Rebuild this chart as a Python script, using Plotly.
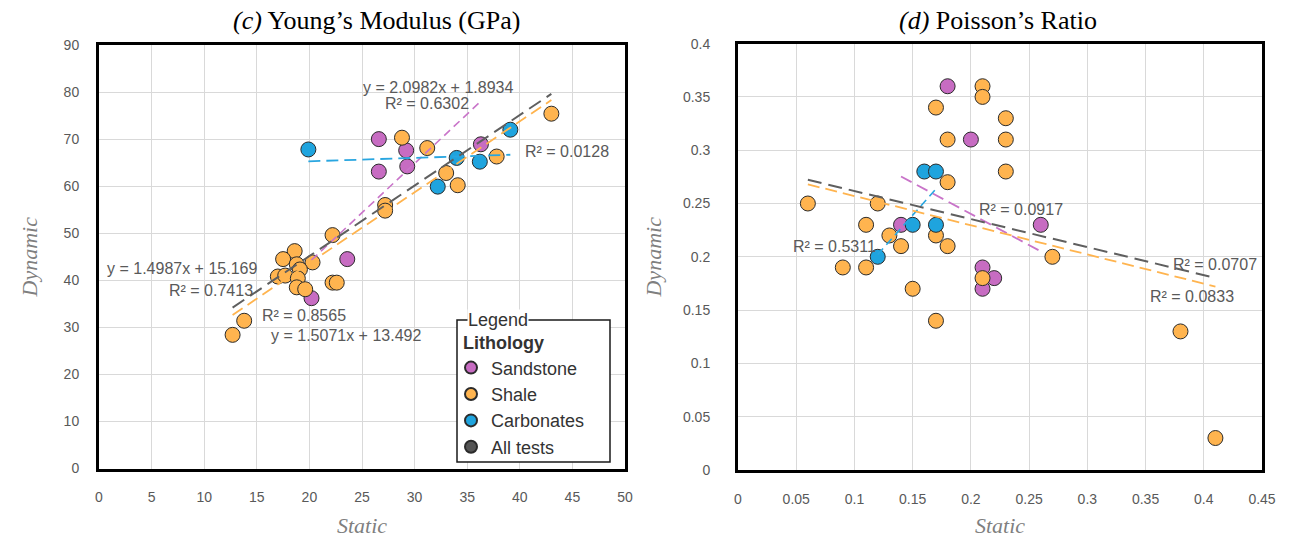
import numpy as np
import plotly.graph_objects as go

# ---------------- data: Young's modulus (GPa) ----------------
ym_sand_x = [26.6, 26.6, 29.2, 29.3, 36.3, 23.6, 20.2]
ym_sand_y = [70.0, 63.1, 67.6, 64.2, 68.9, 44.5, 36.2]
ym_shale_x = [43.0, 28.8, 31.2, 37.8, 33.0, 34.1, 27.2, 27.2, 22.2, 22.2, 22.6, 13.8, 12.7,
              18.6, 17.5, 20.3, 18.8, 19.1, 17.0, 17.7, 18.9, 18.8, 19.6]
ym_shale_y = [75.4, 70.3, 68.1, 66.3, 62.8, 60.2, 56.0, 54.8, 49.6, 39.5, 39.5, 31.4, 28.4,
              46.2, 44.5, 43.8, 43.4, 42.3, 40.8, 41.0, 40.4, 38.5, 38.1]
ym_carb_x = [19.9, 32.2, 34.0, 36.2, 39.1]
ym_carb_y = [67.8, 59.9, 66.0, 65.2, 72.0]

# trend equations printed on the chart (slope, intercept)
ym_all_fit = (1.4987, 15.169)
ym_shale_fit = (1.5071, 13.492)
ym_sand_fit = (2.0982, 1.8934)

# ---------------- data: Poisson's ratio ----------------
pr_sand_x = [0.18, 0.20, 0.14, 0.21, 0.22, 0.21, 0.26]
pr_sand_y = [0.36, 0.31, 0.23, 0.19, 0.18, 0.17, 0.23]
pr_shale_x = [0.21, 0.21, 0.17, 0.18, 0.18, 0.06, 0.12, 0.11, 0.13, 0.17, 0.14, 0.18, 0.09, 0.11,
              0.15, 0.17, 0.21, 0.27, 0.23, 0.23, 0.23, 0.38, 0.41]
pr_shale_y = [0.36, 0.35, 0.34, 0.31, 0.27, 0.25, 0.25, 0.23, 0.22, 0.22, 0.21, 0.21, 0.19, 0.19,
              0.17, 0.14, 0.18, 0.20, 0.33, 0.31, 0.28, 0.13, 0.03]
pr_carb_x = [0.16, 0.17, 0.15, 0.17, 0.12]
pr_carb_y = [0.28, 0.28, 0.23, 0.23, 0.20]

# trend lines (slope, intercept)
pr_all_fit = (-0.263, 0.288)
pr_shale_fit = (-0.274, 0.2844)

colors = {"Sandstone": "#c76cc2", "Shale": "#ffb44f", "Carbonates": "#1fa4de", "All tests": "#555555"}
line_colors = {"Sandstone": "#c974c9", "Shale": "#ffb44f", "Carbonates": "#29a6e0", "All": "#5f5f5f"}

LABEL = "#595959"
fig = go.Figure()


def add_points(xs, ys, name, xa, ya, legend):
    fig.add_trace(go.Scatter(
        x=xs, y=ys, mode="markers", name=name, showlegend=legend, legendgroup=name,
        xaxis=xa, yaxis=ya,
        marker=dict(size=15, color=colors[name], line=dict(color="#2b2b2b", width=1))))


def add_line(xs, coef, color, xa, ya, dash, width=1.8):
    x0, x1 = min(xs), max(xs)
    xx = np.array([x0, x1])
    yy = coef[0] * xx + coef[1]
    fig.add_trace(go.Scatter(x=xx, y=yy, mode="lines", showlegend=False, hoverinfo="skip",
                             xaxis=xa, yaxis=ya,
                             line=dict(color=color, width=width, dash=dash)))


# Left panel
add_points(ym_sand_x, ym_sand_y, "Sandstone", "x", "y", True)
add_points(ym_shale_x, ym_shale_y, "Shale", "x", "y", True)
add_points(ym_carb_x, ym_carb_y, "Carbonates", "x", "y", True)
fig.add_trace(go.Scatter(x=[None], y=[None], mode="markers", name="All tests", xaxis="x", yaxis="y",
                         marker=dict(size=15, color=colors["All tests"], line=dict(color="#2b2b2b", width=1))))

ym_all_x = ym_sand_x + ym_shale_x + ym_carb_x
carb_fit = np.polyfit(ym_carb_x, ym_carb_y, 1)
add_line(ym_sand_x, ym_sand_fit, line_colors["Sandstone"], "x", "y", "8px,5px", 1.6)
add_line(ym_carb_x, carb_fit, line_colors["Carbonates"], "x", "y", "12px,6px", 1.8)
add_line(ym_shale_x, ym_shale_fit, line_colors["Shale"], "x", "y", "12px,6px", 1.8)
add_line(ym_all_x, ym_all_fit, line_colors["All"], "x", "y", "14px,7px", 2)

# Right panel
add_points(pr_sand_x, pr_sand_y, "Sandstone", "x2", "y2", False)
add_points(pr_shale_x, pr_shale_y, "Shale", "x2", "y2", False)
add_points(pr_carb_x, pr_carb_y, "Carbonates", "x2", "y2", False)

pr_all_x = pr_sand_x + pr_shale_x + pr_carb_x
add_line(pr_sand_x, np.polyfit(pr_sand_x, pr_sand_y, 1), line_colors["Sandstone"], "x2", "y2", "12px,6px", 1.8)
add_line(pr_carb_x, np.polyfit(pr_carb_x, pr_carb_y, 1), line_colors["Carbonates"], "x2", "y2", "8px,5px", 1.6)
add_line(pr_shale_x, pr_shale_fit, line_colors["Shale"], "x2", "y2", "12px,6px", 1.8)
add_line(pr_all_x, pr_all_fit, line_colors["All"], "x2", "y2", "14px,7px", 2)

tickfont = dict(family="Liberation Sans, Arial", size=14, color=LABEL)
titlefont = dict(family="Liberation Serif, Times New Roman", size=22, color="#7f7f7f")
grid = "#d9d9d9"


def xaxis(domain, rng, dtick, anchor):
    return dict(domain=domain, range=rng, dtick=dtick, anchor=anchor, showgrid=True, gridcolor=grid,
                gridwidth=1, zeroline=False, showline=True, linecolor="black", linewidth=3, mirror=True,
                tickfont=tickfont, ticks="", ticklabelstandoff=14, automargin=False,
                title=dict(text="<i>Static</i>", font=titlefont, standoff=14))


def yaxis(domain, rng, dtick, anchor, standoff, tstand):
    return dict(domain=domain, range=rng, dtick=dtick, anchor=anchor, showgrid=True, gridcolor=grid,
                gridwidth=1, zeroline=False, showline=True, linecolor="black", linewidth=3, mirror=True,
                tickfont=tickfont, ticks="", ticklabelstandoff=standoff, automargin=False,
                title=dict(text="<i>Dynamic</i>", font=titlefont, standoff=tstand))


W, H = 1289, 538
fig.update_layout(
    width=W, height=H, margin=dict(l=0, r=0, t=0, b=0, autoexpand=False),
    paper_bgcolor="white", plot_bgcolor="white",
    xaxis=xaxis([99 / W, 625 / W], [0, 50], 5, "y"),
    yaxis=yaxis([1 - 468.5 / H, 1 - 45 / H], [0, 90], 10, "x", 14, 20),
    xaxis2=xaxis([738 / W, 1262 / W], [0, 0.45], 0.05, "y2"),
    yaxis2=yaxis([1 - 470 / H, 1 - 43.6 / H], [0, 0.4], 0.05, "x2", 22, 16),
    showlegend=True,
    legend=dict(x=451 / W, y=1 - 326 / H, xanchor="left", yanchor="top",
                bgcolor="rgba(0,0,0,0)", borderwidth=0,
                font=dict(family="Liberation Sans, Arial", size=18, color="#333333"),
                title=dict(text="&nbsp;&nbsp;<b>Lithology</b>",
                           font=dict(family="Liberation Sans, Arial", size=18, color="#333333")),
                itemsizing="constant", tracegroupgap=0),
)

# legend frame
fig.add_shape(type="rect", xref="paper", yref="paper", x0=457 / W, x1=610 / W, y0=1 - 462 / H, y1=1 - 320 / H,
              line=dict(color="#1a1a1a", width=1.5), fillcolor="white", layer="above")

ann_font = dict(family="Liberation Sans, Arial", size=16, color=LABEL)
annotations = [
    ("x", "y", 32.24, 81.0, "y = 2.0982x + 1.8934"),
    ("x", "y", 31.2, 77.5, "R² = 0.6302"),
    ("x", "y", 44.5, 67.3, "R² = 0.0128"),
    ("x", "y", 7.88, 42.5, "y = 1.4987x + 15.169"),
    ("x", "y", 10.68, 37.9, "R² = 0.7413"),
    ("x", "y", 19.47, 32.5, "R² = 0.8565"),
    ("x", "y", 23.46, 28.25, "y = 1.5071x + 13.492"),
    ("x2", "y2", 0.243, 0.2448, "R² = 0.0917"),
    ("x2", "y2", 0.0826, 0.2101, "R² = 0.5311"),
    ("x2", "y2", 0.4098, 0.1932, "R² = 0.0707"),
    ("x2", "y2", 0.390, 0.1632, "R² = 0.0833"),
]
for xr, yr, ax, ay, t in annotations:
    fig.add_annotation(xref=xr, yref=yr, x=ax, y=ay, text=t, showarrow=False, font=ann_font)

title_font = dict(family="Liberation Serif, Times New Roman", size=26, color="black")
fig.add_annotation(xref="paper", yref="paper", x=376 / W, y=1 - 20 / H, xanchor="center", yanchor="middle",
                   text="<i>(c)</i> Young’s Modulus (GPa)", showarrow=False, font=title_font)
fig.add_annotation(xref="paper", yref="paper", x=998 / W, y=1 - 20 / H, xanchor="center", yanchor="middle",
                   text="<i>(d)</i> Poisson’s Ratio", showarrow=False, font=title_font)
fig.add_annotation(xref="paper", yref="paper", x=498 / W, y=1 - 320 / H, xanchor="center", yanchor="middle",
                   text="Legend", showarrow=False, bgcolor="white", borderpad=0,
                   font=dict(family="Liberation Sans, Arial", size=18, color="#333333"))

fig.write_html("out.html")
